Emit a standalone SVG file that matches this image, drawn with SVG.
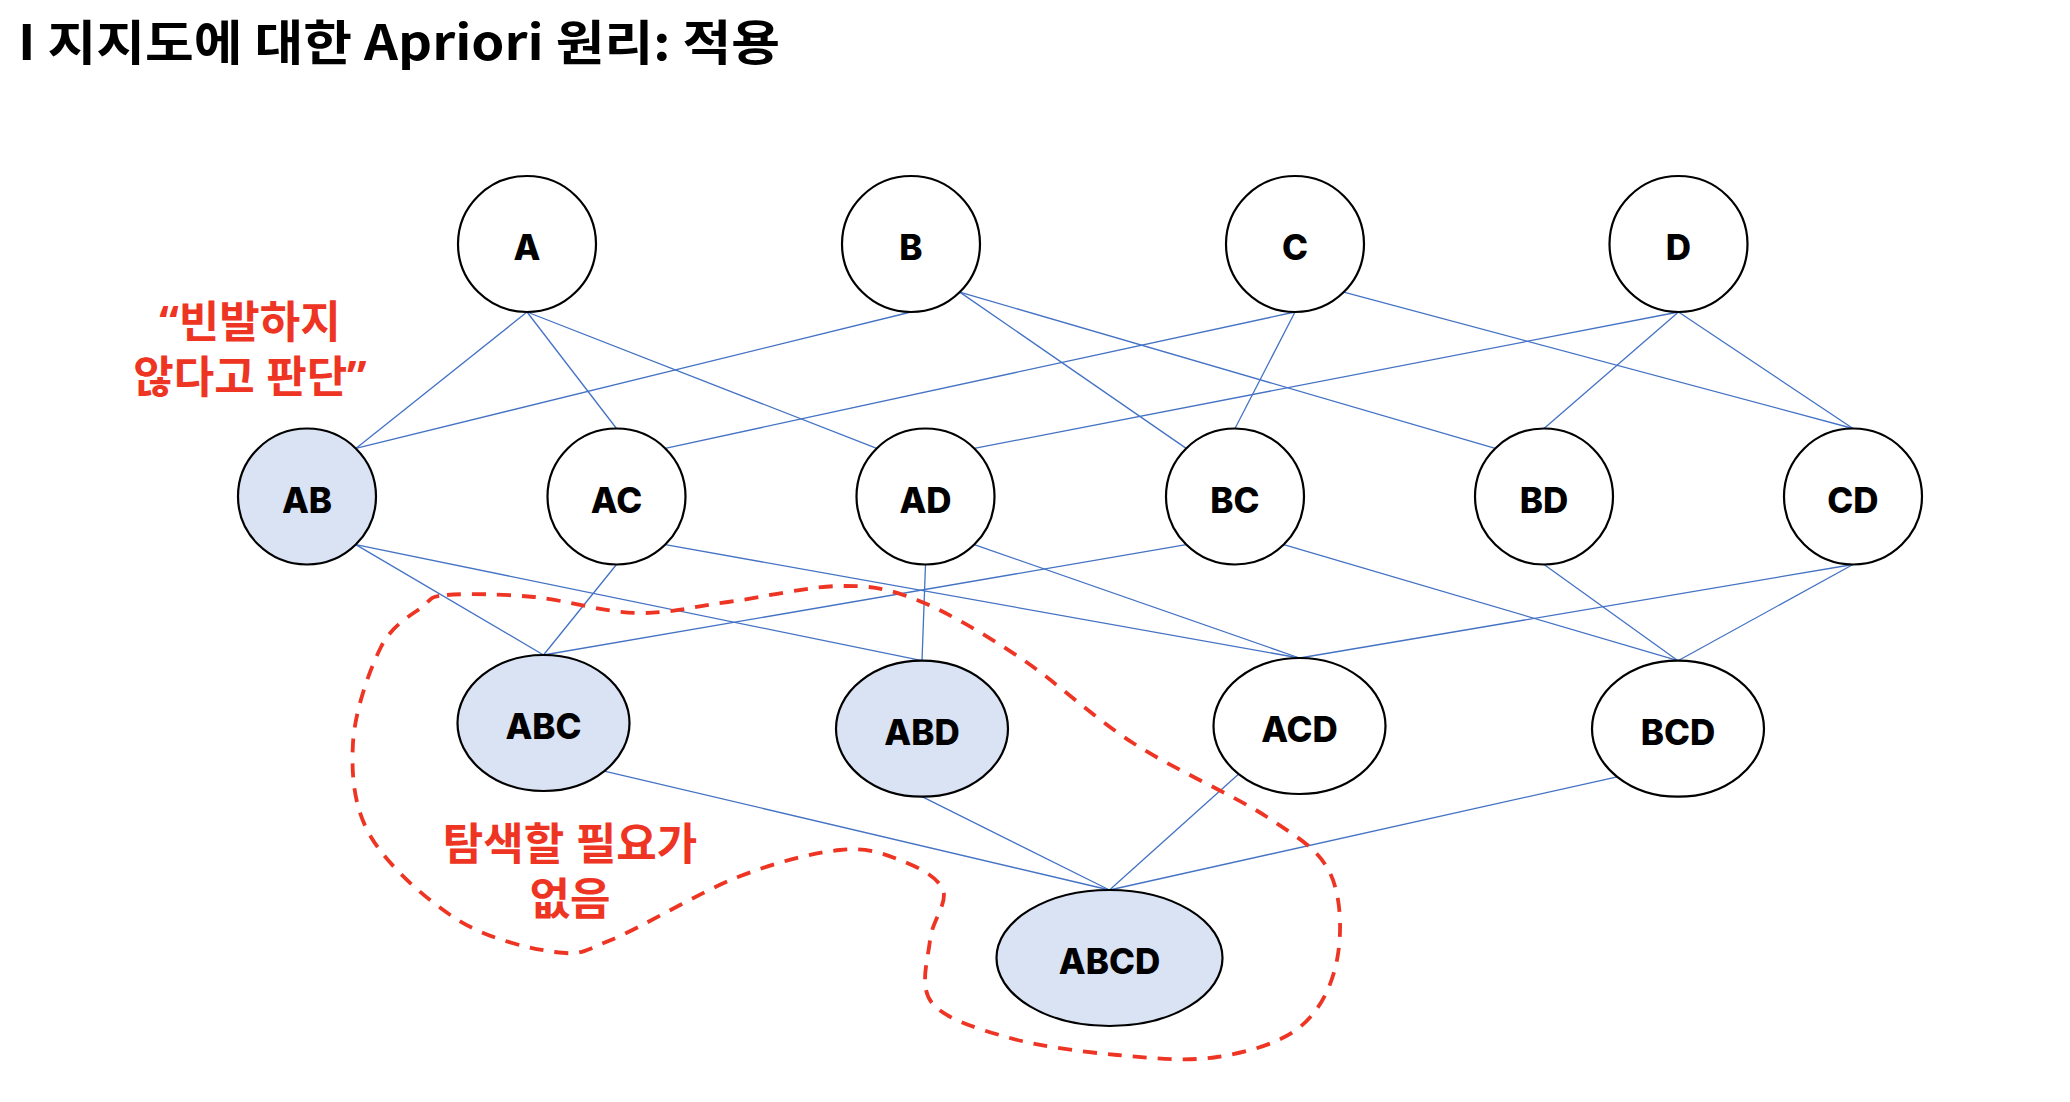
<svg xmlns="http://www.w3.org/2000/svg" width="2070" height="1102" viewBox="0 0 2070 1102">
<style>
.edge{stroke:#4472C4;stroke-width:1.3;fill:none}
.node{stroke:#000;stroke-width:2.2;fill:#fff}
.hit{fill:#DAE3F3}
.lbl{font-family:Inter,"Noto Sans",sans-serif;font-weight:800;font-size:35px;text-anchor:middle;fill:#000}
.red{font-family:"Noto Sans","Noto Sans CJK KR",sans-serif;font-weight:700;font-size:44px;text-anchor:middle;fill:#EE3524}
</style>
<rect width="2070" height="1102" fill="#fff"/>
<text id="title" x="18" y="60" font-family="'Noto Sans CJK KR',sans-serif" font-weight="700" font-size="48" textLength="762" lengthAdjust="spacingAndGlyphs">I 지지도에 대한 Apriori 원리: 적용</text>
<g id="connectors">
<line class="edge" x1="527" y1="312" x2="355.8" y2="448.4"/>
<line class="edge" x1="527" y1="312" x2="616.5" y2="428.5"/>
<line class="edge" x1="527" y1="312" x2="876.7" y2="448.4"/>
<line class="edge" x1="911" y1="312" x2="355.8" y2="448.4"/>
<line class="edge" x1="959.8" y1="292.1" x2="1186.2" y2="448.4"/>
<line class="edge" x1="959.8" y1="292.1" x2="1495.2" y2="448.4"/>
<line class="edge" x1="1295" y1="312" x2="665.3" y2="448.4"/>
<line class="edge" x1="1295" y1="312" x2="1235" y2="428.5"/>
<line class="edge" x1="1343.8" y1="292.1" x2="1853" y2="428.5"/>
<line class="edge" x1="1678.5" y1="312" x2="974.3" y2="448.4"/>
<line class="edge" x1="1678.5" y1="312" x2="1544" y2="428.5"/>
<line class="edge" x1="1678.5" y1="312" x2="1853" y2="428.5"/>
<line class="edge" x1="355.8" y1="544.6" x2="543.5" y2="655"/>
<line class="edge" x1="355.8" y1="544.6" x2="922" y2="660.7"/>
<line class="edge" x1="616.5" y1="564.5" x2="543.5" y2="655"/>
<line class="edge" x1="665.3" y1="544.6" x2="1299.5" y2="658"/>
<line class="edge" x1="925.5" y1="564.5" x2="922" y2="660.7"/>
<line class="edge" x1="974.3" y1="544.6" x2="1299.5" y2="658"/>
<line class="edge" x1="1186.2" y1="544.6" x2="543.5" y2="655"/>
<line class="edge" x1="1283.8" y1="544.6" x2="1678" y2="660.7"/>
<line class="edge" x1="1544" y1="564.5" x2="1678" y2="660.7"/>
<line class="edge" x1="1853" y1="564.5" x2="1299.5" y2="658"/>
<line class="edge" x1="1853" y1="564.5" x2="1678" y2="660.7"/>
<line class="edge" x1="604.3" y1="771.1" x2="1109.5" y2="890"/>
<line class="edge" x1="922" y1="796.7" x2="1109.5" y2="890"/>
<line class="edge" x1="1238.7" y1="774.1" x2="1109.5" y2="890"/>
<line class="edge" x1="1617.2" y1="776.8" x2="1109.5" y2="890"/>
</g>
<g id="n-A"><ellipse class="node" cx="527" cy="244" rx="69" ry="68"/><text class="lbl" x="527" y="260">A</text></g>
<g id="n-B"><ellipse class="node" cx="911" cy="244" rx="69" ry="68"/><text class="lbl" x="911" y="260">B</text></g>
<g id="n-C"><ellipse class="node" cx="1295" cy="244" rx="69" ry="68"/><text class="lbl" x="1295" y="260">C</text></g>
<g id="n-D"><ellipse class="node" cx="1678.5" cy="244" rx="69" ry="68"/><text class="lbl" x="1678.5" y="260">D</text></g>
<g id="n-AB"><ellipse class="node hit" cx="307" cy="496.5" rx="69" ry="68"/><text class="lbl" x="307" y="512.5">AB</text></g>
<g id="n-AC"><ellipse class="node" cx="616.5" cy="496.5" rx="69" ry="68"/><text class="lbl" x="616.5" y="512.5">AC</text></g>
<g id="n-AD"><ellipse class="node" cx="925.5" cy="496.5" rx="69" ry="68"/><text class="lbl" x="925.5" y="512.5">AD</text></g>
<g id="n-BC"><ellipse class="node" cx="1235" cy="496.5" rx="69" ry="68"/><text class="lbl" x="1235" y="512.5">BC</text></g>
<g id="n-BD"><ellipse class="node" cx="1544" cy="496.5" rx="69" ry="68"/><text class="lbl" x="1544" y="512.5">BD</text></g>
<g id="n-CD"><ellipse class="node" cx="1853" cy="496.5" rx="69" ry="68"/><text class="lbl" x="1853" y="512.5">CD</text></g>
<g id="n-ABC"><ellipse class="node hit" cx="543.5" cy="723" rx="86" ry="68"/><text class="lbl" x="543.5" y="739">ABC</text></g>
<g id="n-ABD"><ellipse class="node hit" cx="922" cy="728.7" rx="86" ry="68"/><text class="lbl" x="922" y="745">ABD</text></g>
<g id="n-ACD"><ellipse class="node" cx="1299.5" cy="726" rx="86" ry="68"/><text class="lbl" x="1299.5" y="742">ACD</text></g>
<g id="n-BCD"><ellipse class="node" cx="1678" cy="728.7" rx="86" ry="68"/><text class="lbl" x="1678" y="745">BCD</text></g>
<g id="n-ABCD"><ellipse class="node hit" cx="1109.5" cy="958" rx="113" ry="68"/><text class="lbl" x="1109.5" y="974">ABCD</text></g>
<g id="pruned-region">
<path fill="none" stroke="#EE3524" stroke-width="3.8" stroke-dasharray="14 11" d="M447,595 C465.7,593.3 502.5,594 534,597 C565.5,600 603.7,612.2 636,613 C668.3,613.8 694,606.5 728,602 C762,597.5 808.5,586.3 840,586 C871.5,585.7 887.2,588.2 917,600 C946.8,611.8 983,633.2 1019,657 C1055,680.8 1091.7,716.3 1133,743 C1174.3,769.7 1234.2,795.3 1267,817 C1299.8,838.7 1318.3,849.2 1330,873 C1341.7,896.8 1342,934.3 1337,960 C1332,985.7 1320,1010.8 1300,1027 C1280,1043.2 1247.5,1052.3 1217,1057 C1186.5,1061.7 1151.5,1058.2 1117,1055 C1082.5,1051.8 1040.8,1046.7 1010,1038 C979.2,1029.3 945.3,1019.3 932,1003 C918.7,986.7 928.2,958.8 930,940 C931.8,921.2 948,903.3 943,890 C938,876.7 917.2,866.7 900,860 C882.8,853.3 867,847.2 840,850 C813,852.8 776.2,862 738,877 C699.8,892 641.5,927.5 611,940 C580.5,952.5 580.5,955.3 555,952 C529.5,948.7 488.7,939.2 458,920 C427.3,900.8 388.5,866.5 371,837 C353.5,807.5 351.3,774.7 353,743 C354.7,711.3 369.5,669.7 381,647 C392.5,624.3 411,615.7 422,607 C433,598.3 428.3,596.7 447,595 Z"/>
</g>
<g id="note-infrequent">
<text class="red" x="250" y="338">“빈발하지</text>
<text class="red" x="250" y="393">않다고 판단”</text>
</g>
<g id="note-no-search">
<text class="red" x="570" y="860">탐색할 필요가</text>
<text class="red" x="570" y="915">없음</text>
</g>
</svg>
